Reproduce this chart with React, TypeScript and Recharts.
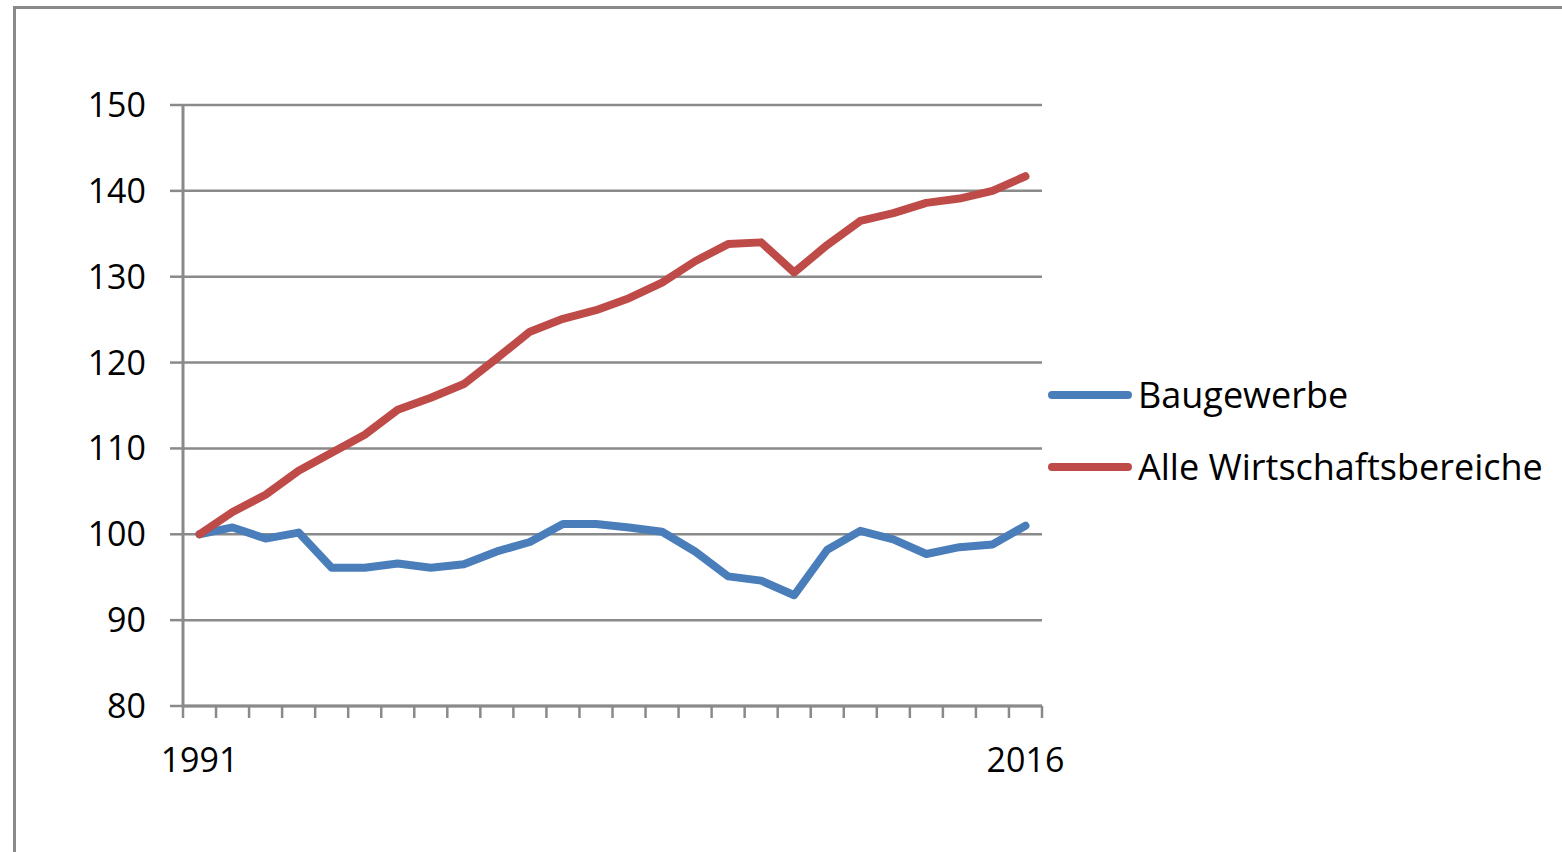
import React from 'react';
import { LineChart, Line, XAxis, YAxis, CartesianGrid, Legend } from 'recharts';

// Index 1991 = 100
const years = [
  1991, 1992, 1993, 1994, 1995, 1996, 1997, 1998, 1999, 2000, 2001, 2002, 2003,
  2004, 2005, 2006, 2007, 2008, 2009, 2010, 2011, 2012, 2013, 2014, 2015, 2016
];
const baugewerbe = [
  100, 100.8, 99.5, 100.2, 96.1, 96.1, 96.6, 96.1, 96.5, 98.0, 99.1, 101.2, 101.2,
  100.8, 100.3, 98.0, 95.1, 94.6, 92.9, 98.2, 100.4, 99.4, 97.7, 98.5, 98.8, 101.0
];
const alleBereiche = [
  100, 102.6, 104.6, 107.4, 109.5, 111.6, 114.5, 115.9, 117.5, 120.5, 123.6, 125.1, 126.1,
  127.5, 129.3, 131.8, 133.8, 134.0, 130.5, 133.7, 136.5, 137.4, 138.6, 139.1, 140.0, 141.7
];
const seriesNames = ['Baugewerbe', 'Alle Wirtschaftsbereiche'];
const yTicks = [80, 90, 100, 110, 120, 130, 140, 150];
const yearLabels = [1991, 2016];

const data = years.map((year, i) => ({
  year,
  Baugewerbe: baugewerbe[i],
  'Alle Wirtschaftsbereiche': alleBereiche[i]
}));

// tick marks sit between the years
const boundaryTicks = years.map((y) => y - 0.5).concat(years[years.length - 1] + 0.5);
const xDomain = [boundaryTicks[0], boundaryTicks[boundaryTicks.length - 1]];

const GRAY = '#8a8a8a';
const BLUE = '#4a7ebb';
const RED = '#be4b48';
const FONT = '"Open Sans", sans-serif';

function renderLegend(props: any) {
  const items = [...(props.payload || [])].sort(
    (a: any, b: any) => seriesNames.indexOf(a.value) - seriesNames.indexOf(b.value)
  );
  return (
    <div>
      {items.map((item: any) => (
        <div key={item.value} style={{ display: 'flex', alignItems: 'center', height: 72 }}>
          <svg width={95} height={12} style={{ flex: 'none' }}>
            <line x1={9} y1={6} x2={85} y2={6} stroke={item.color} strokeWidth={8} strokeLinecap="round" />
          </svg>
          <span style={{ fontSize: 36, color: '#000', fontFamily: FONT, lineHeight: 1, whiteSpace: 'nowrap' }}>
            {item.value}
          </span>
        </div>
      ))}
    </div>
  );
}

export default function App() {
  return (
    <div style={{ position: 'absolute', left: 0, top: 0, width: 1562, height: 852, overflow: 'hidden', background: '#fff', fontFamily: FONT }}>
      <div style={{ position: 'absolute', left: 13, top: 6, width: 1600, height: 900, border: `3px solid ${GRAY}` }} />
      <div style={{ position: 'absolute', left: 0, top: 0 }}>
        <LineChart
          width={1562}
          height={852}
          data={data}
          margin={{ top: 105, right: 520, bottom: 56, left: 83 }}
        >
          <CartesianGrid
            xAxisId="a"
            vertical={false}
            stroke={GRAY}
            strokeWidth={2.5}
          />
          <XAxis
            xAxisId="b"
            dataKey="year"
            type="number"
            domain={xDomain}
            ticks={yearLabels}
            interval={0}
            height={60}
            tickSize={0}
            tickMargin={12}
            axisLine={false}
            tickLine={false}
            tick={{ fill: '#000', fontSize: 34, fontFamily: FONT }}
            allowDataOverflow
          />
          <XAxis
            xAxisId="a"
            dataKey="year"
            type="number"
            domain={xDomain}
            ticks={boundaryTicks}
            interval={0}
            height={30}
            tickSize={12}
            tickFormatter={() => ''}
            axisLine={{ stroke: GRAY, strokeWidth: 3 }}
            tickLine={{ stroke: GRAY, strokeWidth: 2.5 }}
            allowDataOverflow
          />
          <YAxis
            domain={[80, 150]}
            ticks={yTicks}
            interval={0}
            width={100}
            tickSize={13}
            tickMargin={24}
            axisLine={{ stroke: GRAY, strokeWidth: 3 }}
            tickLine={{ stroke: GRAY, strokeWidth: 2.5 }}
            tick={{ fill: '#000', fontSize: 34, fontFamily: FONT }}
          />
          <Legend
            layout="vertical"
            align="center"
            verticalAlign="middle"
            content={renderLegend}
            wrapperStyle={{ left: 1043, top: 359, width: 519 }}
          />
          <Line
            xAxisId="a"
            type="linear"
            dataKey="Baugewerbe"
            stroke={BLUE}
            strokeWidth={8}
            strokeLinecap="round"
            strokeLinejoin="round"
            dot={false}
            activeDot={false}
            isAnimationActive={false}
          />
          <Line
            xAxisId="a"
            type="linear"
            dataKey="Alle Wirtschaftsbereiche"
            stroke={RED}
            strokeWidth={8}
            strokeLinecap="round"
            strokeLinejoin="round"
            dot={false}
            activeDot={false}
            isAnimationActive={false}
          />
        </LineChart>
      </div>
    </div>
  );
}
